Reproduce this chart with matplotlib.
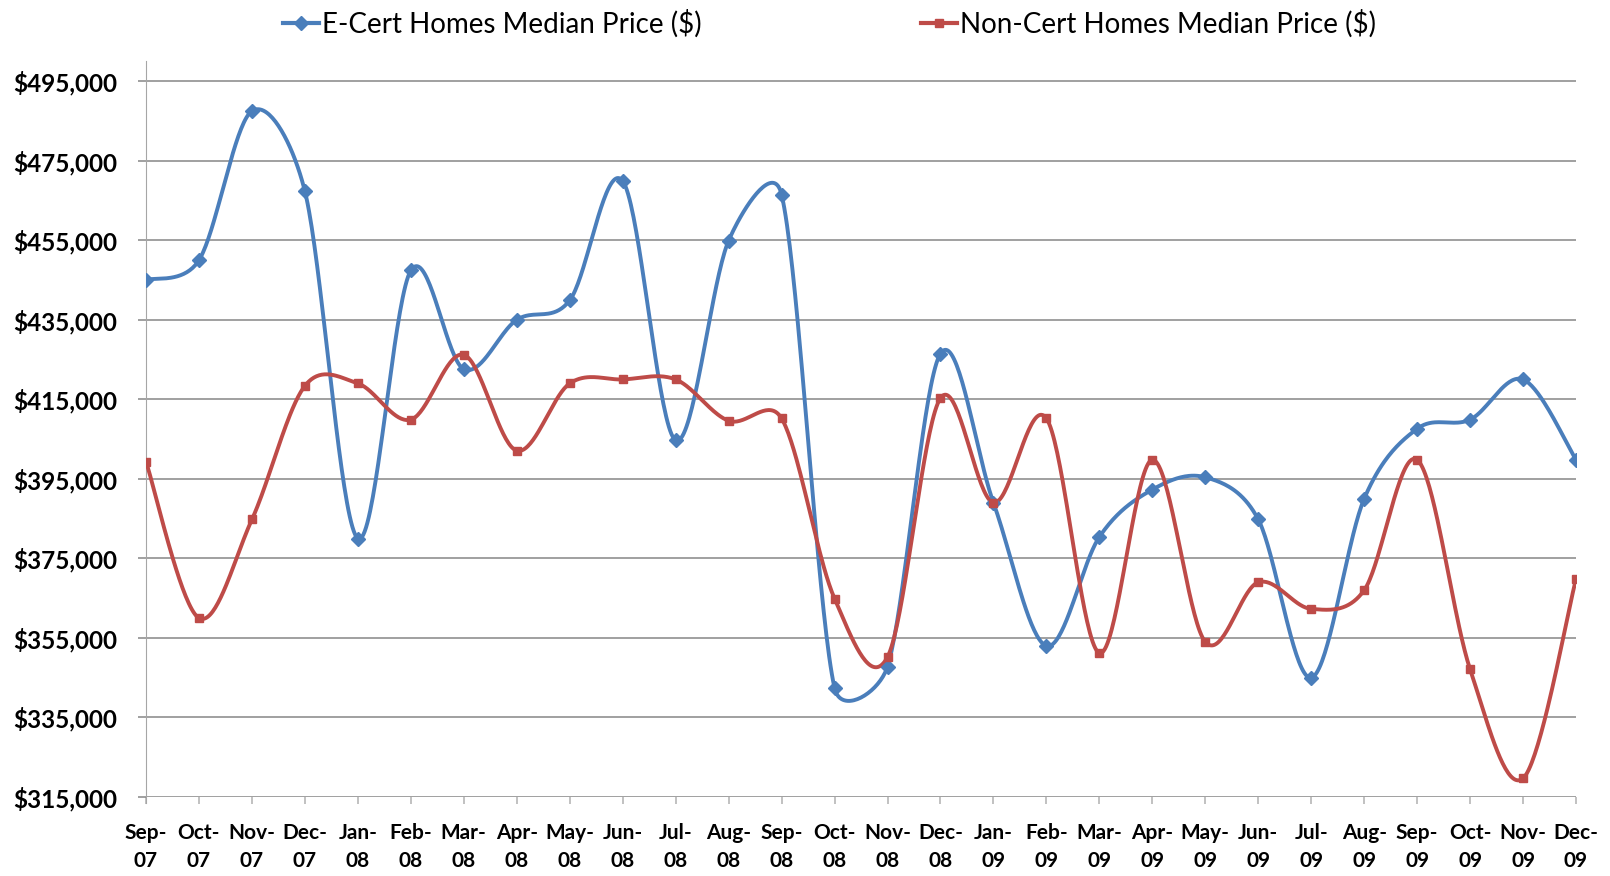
import numpy as np
import matplotlib
matplotlib.use('Agg')
import matplotlib.pyplot as plt
from matplotlib.lines import Line2D

plt.rcParams['font.family'] = ['Lato', 'DejaVu Sans']

months = ['Sep-\n07', 'Oct-\n07', 'Nov-\n07', 'Dec-\n07', 'Jan-\n08', 'Feb-\n08', 'Mar-\n08',
          'Apr-\n08', 'May-\n08', 'Jun-\n08', 'Jul-\n08', 'Aug-\n08', 'Sep-\n08', 'Oct-\n08',
          'Nov-\n08', 'Dec-\n08', 'Jan-\n09', 'Feb-\n09', 'Mar-\n09', 'Apr-\n09', 'May-\n09',
          'Jun-\n09', 'Jul-\n09', 'Aug-\n09', 'Sep-\n09', 'Oct-\n09', 'Nov-\n09', 'Dec-\n09']

ecert = [445000, 450000, 487500, 467300, 380000, 447400, 422600, 435000, 439900, 469900,
         404700, 454900, 466500, 342400, 347800, 426500, 389000, 353000, 380400, 392300,
         395400, 384800, 345000, 390000, 407600, 409900, 420000, 399800]

noncert = [399300, 360000, 384800, 418400, 419000, 409900, 426200, 402100, 419000, 420000,
           420000, 409600, 410200, 364900, 350200, 415300, 389000, 410200, 351200, 399800,
           354000, 369000, 362300, 367000, 399800, 347100, 319700, 369800]

yticks = list(range(315000, 500000, 20000))

BLUE = '#4A7EBB'
RED = '#BE4B48'


def smooth(ax, x, y, n=40):
    # excel-like smoothed line, worked out in screen space:
    # catmull-rom control points, capped at half the segment length
    pts = ax.transData.transform(np.column_stack([x, y]))
    p = np.vstack([pts[0], pts, pts[-1]])
    t = np.linspace(0, 1, n)[:, None]
    out = []
    for i in range(1, len(p) - 2):
        p0, p1, p2, p3 = p[i - 1], p[i], p[i + 1], p[i + 2]
        d12 = np.hypot(*(p2 - p1))
        t1 = (p2 - p0) / 6
        t2 = (p3 - p1) / 6
        l1, l2 = np.hypot(*t1), np.hypot(*t2)
        if l1 > d12 / 2:
            t1 = t1 * (d12 / 2) / l1
        if l2 > d12 / 2:
            t2 = t2 * (d12 / 2) / l2
        c1 = p1 + t1
        c2 = p2 - t2
        b = (1 - t) ** 3 * p1 + 3 * (1 - t) ** 2 * t * c1 + 3 * (1 - t) * t ** 2 * c2 + t ** 3 * p2
        out.append(b)
    out = ax.transData.inverted().transform(np.vstack(out))
    return out[:, 0], out[:, 1]


fig = plt.figure(figsize=(16.1, 8.76), dpi=100)
ax = fig.add_axes([0.0907, 0.0902, 0.9789 - 0.0907, 0.930 - 0.0902])

x = np.arange(len(months))
ax.set_xlim(0, len(months) - 1)
ax.set_ylim(315000, 500000)

for vals, col, mk, ms in [(ecert, BLUE, 'D', 7), (noncert, RED, 's', 5.5)]:
    sx, sy = smooth(ax, x, vals)
    ax.plot(sx, sy, color=col, lw=2.8, solid_capstyle='round', zorder=3)
    ax.plot(x, vals, ls='none', marker=mk, ms=ms, color=col, zorder=4)

ax.set_xlim(0, len(months) - 1)
ax.set_ylim(315000, 500000)
ax.set_yticks(yticks)
ax.set_yticklabels(['${:,}'.format(v) for v in yticks], fontsize=17.5, fontweight='bold')
ax.set_xticks(x)
ax.set_xticklabels(months, fontsize=15, fontweight='bold', linespacing=1.5)

ax.grid(axis='y', color='#868686', lw=1.1)
ax.set_axisbelow(True)
for s in ['top', 'right', 'bottom']:
    ax.spines[s].set_visible(False)
ax.spines['left'].set_color('#A6A6A6')
ax.spines['left'].set_bounds(315000 - 1500, 500000)
ax.tick_params(axis='y', length=6, color='#868686', width=1.1, pad=15)
ax.tick_params(axis='x', length=5, color='#B0B0B0', width=1.1, pad=14, direction='out')

handles = [Line2D([], [], color=BLUE, lw=3, marker='D', ms=7),
           Line2D([], [], color=RED, lw=3, marker='s', ms=5.5)]
fig.legend(handles, ['E-Cert Homes Median Price ($)', 'Non-Cert Homes Median Price ($)'],
           loc='center', bbox_to_anchor=(0.515, 0.973), ncol=2, frameon=False,
           fontsize=20, handlelength=1.3, handletextpad=0.1, columnspacing=7.9)

fig.savefig('out.png', dpi=100)
